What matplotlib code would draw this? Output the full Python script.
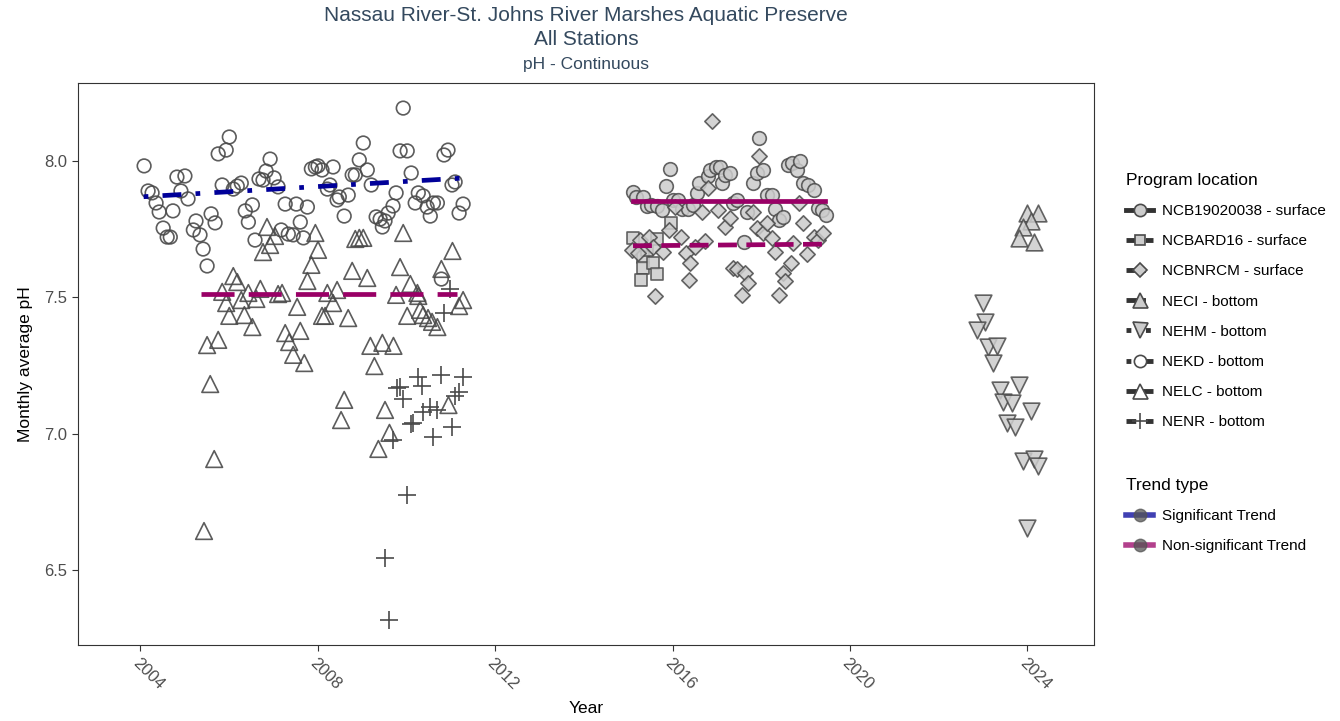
import matplotlib
matplotlib.use('Agg')
import matplotlib.pyplot as plt
from matplotlib.lines import Line2D
import numpy as np

plt.rcParams['font.family'] = ['Liberation Sans', 'DejaVu Sans']

##############################data########################################
# NEKD - bottom (open circles)
nekd_year = [2004.09, 2004.18, 2004.27, 2004.36, 2004.43, 2004.74, 2004.52, 2004.61, 2004.68, 2004.83,
             2005.01, 2004.92, 2005.08, 2005.26, 2005.20, 2005.35, 2005.42, 2005.51, 2005.60, 2005.69,
             2005.76, 2005.94, 2006.01, 2005.85, 2006.10, 2006.19, 2006.28, 2006.37, 2006.53, 2006.44,
             2006.59, 2006.68, 2006.84, 2006.77, 2006.93, 2007.02, 2007.11, 2007.18, 2007.27, 2007.34,
             2007.45, 2007.52, 2007.61, 2007.68, 2007.77, 2007.86, 2007.95, 2008.01, 2008.10, 2008.35,
             2008.94, 2009.12, 2008.78, 2008.85, 2009.03, 2009.21, 2008.22, 2008.28, 2008.49, 2008.44,
             2008.69, 2008.60, 2009.32, 2009.41, 2009.52, 2009.46, 2009.59, 2009.70, 2009.77, 2009.86,
             2010.02, 2009.93, 2010.11, 2010.20, 2010.27, 2010.38, 2010.47, 2010.54, 2010.61, 2010.70,
             2010.85, 2010.94, 2011.03, 2011.10, 2011.28, 2011.19, 2010.79]
nekd_ph = [7.982, 7.890, 7.883, 7.846, 7.813, 7.817, 7.754, 7.721, 7.721, 7.941,
           7.945, 7.890, 7.861, 7.780, 7.747, 7.729, 7.677, 7.615, 7.806, 7.773,
           8.026, 8.040, 8.088, 7.912, 7.897, 7.908, 7.919, 7.817, 7.839, 7.776,
           7.710, 7.934, 7.963, 7.930, 8.007, 7.938, 7.905, 7.747, 7.842, 7.732,
           7.729, 7.842, 7.776, 7.718, 7.831, 7.971, 7.978, 7.982, 7.967, 7.978,
           8.004, 7.967, 7.949, 7.949, 8.066, 7.912, 7.897, 7.912, 7.868, 7.857,
           7.875, 7.798, 7.795, 7.787, 7.780, 7.758, 7.809, 7.835, 7.883, 8.037,
           8.037, 8.194, 7.956, 7.846, 7.883, 7.872, 7.831, 7.798, 7.846, 7.846,
           8.022, 8.040, 7.912, 7.923, 7.842, 7.809, 7.567]

# NELC - bottom (open triangles)
nelc_year = [2005.44, 2005.67, 2005.58, 2005.51, 2005.76, 2006.10, 2006.19, 2005.85, 2006.44, 2006.71,
             2006.28, 2005.94, 2006.62, 2007.11, 2007.20, 2006.01, 2006.35, 2006.53, 2007.54, 2007.86,
             2007.77, 2007.27, 2007.61, 2007.36, 2007.45, 2007.70, 2006.86, 2007.04, 2006.93, 2006.77,
             2007.95, 2008.01, 2008.22, 2008.10, 2008.17, 2008.85, 2008.94, 2009.03, 2009.93, 2011.04,
             2008.78, 2009.12, 2009.86, 2010.79, 2010.09, 2010.25, 2010.27, 2009.77, 2008.44, 2008.35,
             2008.69, 2010.02, 2010.31, 2010.38, 2010.49, 2010.58, 2010.70, 2011.28, 2011.19, 2009.19,
             2009.46, 2009.71, 2009.28, 2008.60, 2008.53, 2009.52, 2009.62, 2009.37, 2010.95]
nelc_ph = [6.643, 6.907, 7.182, 7.325, 7.344, 7.578, 7.556, 7.520, 7.516, 7.531,
           7.490, 7.479, 7.494, 7.512, 7.516, 7.432, 7.435, 7.391, 7.465, 7.619,
           7.560, 7.369, 7.377, 7.336, 7.289, 7.259, 7.758, 7.725, 7.692, 7.666,
           7.736, 7.674, 7.516, 7.432, 7.432, 7.714, 7.718, 7.718, 7.736, 7.670,
           7.597, 7.571, 7.611, 7.604, 7.549, 7.516, 7.505, 7.509, 7.527, 7.479,
           7.424, 7.432, 7.454, 7.435, 7.424, 7.410, 7.391, 7.490, 7.468, 7.322,
           7.333, 7.322, 7.248, 7.124, 7.050, 7.087, 7.003, 6.944, 7.105]

# NENR - bottom (plus)
nenr_year = [2009.52, 2009.62, 2010.02, 2009.71, 2010.61, 2011.04, 2010.16, 2010.11, 2010.38, 2010.54,
             2010.70, 2009.93, 2009.80, 2009.86, 2010.27, 2010.36, 2010.79, 2011.28, 2011.19, 2011.10,
             2010.86, 2010.99]
nenr_ph = [6.544, 6.317, 6.775, 6.977, 6.988, 7.025, 7.039, 7.036, 7.080, 7.098,
           7.087, 7.127, 7.168, 7.171, 7.208, 7.175, 7.215, 7.208, 7.153, 7.138,
           7.443, 7.531]

# NCB19020038 - surface (grey circles)
ncb_year = [2015.12, 2015.18, 2015.34, 2015.43, 2015.52, 2015.66, 2015.77, 2015.86, 2015.95, 2016.02,
            2016.13, 2016.22, 2016.36, 2016.47, 2016.56, 2016.60, 2016.79, 2016.85, 2016.97, 2017.06,
            2017.12, 2017.19, 2017.30, 2017.37, 2017.46, 2017.62, 2017.69, 2017.82, 2017.91, 2017.96,
            2018.05, 2018.14, 2018.25, 2018.30, 2018.39, 2018.50, 2018.61, 2018.70, 2018.81, 2018.88,
            2018.95, 2019.06, 2019.18, 2019.29, 2019.38, 2019.45]
ncb_ph = [7.886, 7.868, 7.868, 7.835, 7.839, 7.835, 7.820, 7.908, 7.971, 7.857,
          7.857, 7.824, 7.824, 7.839, 7.883, 7.919, 7.945, 7.967, 7.978, 7.978,
          7.919, 7.949, 7.956, 7.846, 7.857, 7.703, 7.813, 7.919, 7.956, 8.084,
          7.967, 7.875, 7.875, 7.824, 7.784, 7.795, 7.985, 7.993, 7.967, 8.000,
          7.919, 7.912, 7.894, 7.828, 7.820, 7.802]

# NCBARD16 - surface (grey squares)
ard_year = [2015.12, 2015.34, 2015.43, 2015.34, 2015.55, 2015.64, 2015.30, 2015.66, 2015.97]
ard_ph = [7.718, 7.648, 7.674, 7.608, 7.626, 7.586, 7.564, 7.714, 7.773]

# NCBNRCM - surface (grey diamonds)
nrcm_year = [2015.09, 2015.27, 2015.23, 2015.46, 2015.55, 2015.79, 2015.91, 2016.06, 2016.18, 2016.31,
             2016.40, 2016.38, 2015.61, 2016.51, 2016.67, 2016.74, 2016.79, 2016.88, 2017.03, 2017.19,
             2017.30, 2017.37, 2017.46, 2017.64, 2017.71, 2017.57, 2017.82, 2017.91, 2018.03, 2018.14,
             2018.25, 2018.32, 2018.48, 2018.54, 2018.66, 2018.39, 2018.72, 2018.84, 2018.93, 2019.04,
             2019.18, 2019.29, 2019.40, 2017.96]
nrcm_ph = [7.674, 7.710, 7.663, 7.721, 7.685, 7.666, 7.747, 7.831, 7.721, 7.663,
           7.626, 7.564, 7.505, 7.685, 7.813, 7.707, 7.901, 8.147, 7.820, 7.758,
           7.791, 7.608, 7.604, 7.589, 7.553, 7.509, 7.813, 7.754, 7.736, 7.773,
           7.718, 7.666, 7.589, 7.560, 7.626, 7.509, 7.699, 7.846, 7.773, 7.659,
           7.721, 7.710, 7.736, 8.018]

# NECI - bottom (grey triangles up)
neci_year = [2023.98, 2024.23, 2024.07, 2023.91, 2023.80, 2024.14]
neci_ph = [7.809, 7.809, 7.780, 7.758, 7.718, 7.703]

# NEHM - bottom (grey triangles down)
nehm_year = [2022.99, 2023.05, 2022.87, 2023.12, 2023.32, 2023.23, 2023.39, 2023.80, 2023.46, 2023.66,
             2024.07, 2023.55, 2023.73, 2023.89, 2024.14, 2024.23, 2023.98]
nehm_ph = [7.479, 7.410, 7.380, 7.318, 7.322, 7.259, 7.160, 7.179, 7.116, 7.113,
           7.083, 7.039, 7.025, 6.900, 6.907, 6.882, 6.654]

# trend lines (start, end)
nekd_trend_year = [2004.08, 2011.35]
nekd_trend_ph = [7.869, 7.938]
nelc_trend_year = [2005.37, 2011.15]
nelc_trend_ph = [7.511, 7.511]
ncb_trend_year = [2015.10, 2019.43]
ncb_trend_ph = [7.853, 7.853]
nrcm_trend_year = [2015.11, 2019.42]
nrcm_trend_ph = [7.689, 7.695]

stations = ['NCB19020038 - surface', 'NCBARD16 - surface', 'NCBNRCM - surface', 'NECI - bottom',
            'NEHM - bottom', 'NEKD - bottom', 'NELC - bottom', 'NENR - bottom']

##############################style########################################
sig_col = '#000099'
nonsig_col = '#990066'
edge = '#4a4a4a'
fill = '#cccccc'
title_col = '#34495e'
# ggplot style linetypes
lstyle = {'NCB19020038 - surface': '-', 'NCBARD16 - surface': (0, (2, 2)),
          'NCBNRCM - surface': (0, (4, 2)), 'NECI - bottom': (0, (4, 4)),
          'NEHM - bottom': (0, (1, 3)), 'NEKD - bottom': (0, (1, 3, 4, 3)),
          'NELC - bottom': (0, (7, 3)), 'NENR - bottom': (0, (2, 2, 6, 2))}
mk = {'NCB19020038 - surface': ('o', 9.8, True), 'NCBARD16 - surface': ('s', 8.7, True),
      'NCBNRCM - surface': ('D', 7.8, True), 'NECI - bottom': ('^', 12, True),
      'NEHM - bottom': ('v', 12, True), 'NEKD - bottom': ('o', 9.8, False),
      'NELC - bottom': ('^', 12, False), 'NENR - bottom': ('+', 13, False)}

fig = plt.figure(figsize=(13.4, 7.21), dpi=100)
ax = fig.add_axes([78/1340, 1-645/721, (1094-78)/1340, (645-83)/721])

def pts(x, y, name):
    m, ms, filled = mk[name]
    if m == '+':
        ax.scatter(x, y, marker=m, s=ms**2, c=edge, linewidths=1.2, zorder=3)
    elif filled:
        ax.scatter(x, y, marker=m, s=ms**2, facecolors=fill, edgecolors=edge,
                   linewidths=1.2, alpha=0.85, zorder=3)
    else:
        ax.scatter(x, y, marker=m, s=ms**2, facecolors='none', edgecolors=edge,
                   linewidths=1.2, alpha=0.9, zorder=3)

pts(nekd_year, nekd_ph, 'NEKD - bottom')
pts(nelc_year, nelc_ph, 'NELC - bottom')
pts(nenr_year, nenr_ph, 'NENR - bottom')
pts(ncb_year, ncb_ph, 'NCB19020038 - surface')
pts(ard_year, ard_ph, 'NCBARD16 - surface')
pts(nrcm_year, nrcm_ph, 'NCBNRCM - surface')
pts(neci_year, neci_ph, 'NECI - bottom')
pts(nehm_year, nehm_ph, 'NEHM - bottom')

lw = 3.4
ax.plot(nekd_trend_year, nekd_trend_ph, color=sig_col, lw=lw, ls=lstyle['NEKD - bottom'], zorder=4)
ax.plot(nelc_trend_year, nelc_trend_ph, color=nonsig_col, lw=lw, ls=lstyle['NELC - bottom'], zorder=4)
ax.plot(ncb_trend_year, ncb_trend_ph, color=nonsig_col, lw=lw, ls='-', zorder=4)
ax.plot(nrcm_trend_year, nrcm_trend_ph, color=nonsig_col, lw=lw, ls=lstyle['NCBNRCM - surface'], zorder=4)

ax.set_xlim(2002.6, 2025.5)
ax.set_ylim(6.225, 8.286)
ax.set_xticks([2004, 2008, 2012, 2016, 2020, 2024])
ax.set_yticks([6.5, 7.0, 7.5, 8.0])
ax.set_yticklabels(['6.5', '7.0', '7.5', '8.0'])
for lab in ax.get_xticklabels():
    lab.set_rotation(-45)
    lab.set_ha('left')
    lab.set_va('top')
    lab.set_rotation_mode('anchor')
ax.tick_params(direction='out', length=4, width=0.8, color='#333333', labelcolor='#4d4d4d', labelsize=12)
for s in ax.spines.values():
    s.set_color('#333333')
    s.set_linewidth(0.8)
ax.set_xlabel('Year', fontsize=12.5, color='black', labelpad=6)
ax.set_ylabel('Monthly average pH', fontsize=12.5, color='black', labelpad=8)

fig.text(586/1340, 1-27.5/721, 'Nassau River-St. Johns River Marshes Aquatic Preserve\nAll Stations',
         ha='center', va='center', fontsize=15, color=title_col, linespacing=1.3)
fig.text(586/1340, 1-64.5/721, 'pH - Continuous', ha='center', va='center', fontsize=12.5, color=title_col)

# legends
h1 = []
for name in stations:
    m, ms, filled = mk[name]
    h1.append(Line2D([], [], color='#333333', lw=3.5, ls=lstyle[name], marker=m,
                     ms=ms*0.9, mfc=fill if filled else 'white', mec=edge, mew=1.2))
leg1 = fig.legend(h1, stations, loc='upper left', bbox_to_anchor=(1112/1340, 1-159/721),
                  frameon=False, fontsize=11, title='Program location', title_fontsize=12.5,
                  alignment='left', handlelength=1.8, labelspacing=1.06, handletextpad=0.6)
h2 = [Line2D([], [], color=sig_col, alpha=0.75, lw=4, marker='o', ms=9, mfc='#555555', mec='#555555'),
      Line2D([], [], color=nonsig_col, alpha=0.75, lw=4, marker='o', ms=9, mfc='#555555', mec='#555555')]
leg2 = fig.legend(h2, ['Significant Trend', 'Non-significant Trend'], loc='upper left',
                  bbox_to_anchor=(1112/1340, 1-464/721), frameon=False, fontsize=11,
                  title='Trend type', title_fontsize=12.5, alignment='left',
                  handlelength=1.8, labelspacing=1.06, handletextpad=0.6)

plt.savefig('out.png', dpi=100)
